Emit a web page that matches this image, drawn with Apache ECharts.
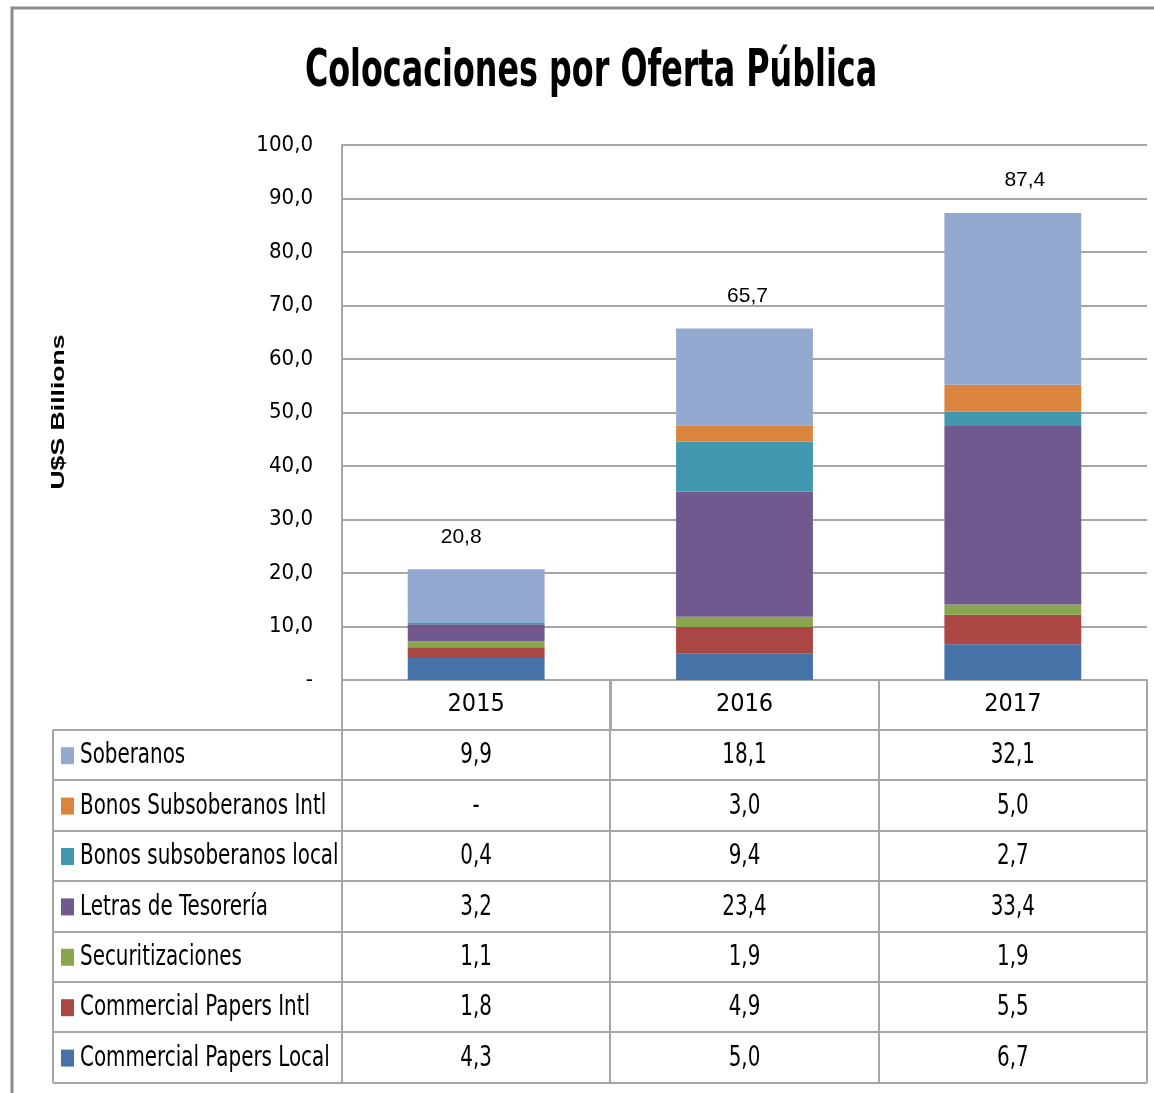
<!DOCTYPE html>
<html><head><meta charset="utf-8">
<script src="https://cdn.jsdelivr.net/npm/echarts@6/dist/echarts.min.js"></script>
<style>html,body{margin:0;padding:0;background:#fff}#c{width:1154px;height:1093px}</style>
</head><body><div id="c"></div>
<script>
const categories = ['2015', '2016', '2017'];
const soberanos = [9.9, 18.1, 32.1];
const bonosSubIntl = [0, 3.0, 5.0];
const bonosSubLocal = [0.4, 9.4, 2.7];
const letras = [3.2, 23.4, 33.4];
const securitizaciones = [1.1, 1.9, 1.9];
const cpIntl = [1.8, 4.9, 5.5];
const cpLocal = [4.3, 5.0, 6.7];
const totals = [20.8, 65.7, 87.4];
const yTicks = [0, 10, 20, 30, 40, 50, 60, 70, 80, 90, 100];

const NARROW = '"Liberation Sans Narrow", "DejaVu Sans Condensed", sans-serif';
const ARIAL = '"Liberation Sans", Arial, sans-serif';
const fmt = v => v === 0 ? '-' : v.toFixed(1).replace('.', ',');

// top-to-bottom order in the table
const seriesDefs = [
  {name: 'Soberanos', data: soberanos, color: '#93a9cf'},
  {name: 'Bonos Subsoberanos Intl', data: bonosSubIntl, color: '#db843d'},
  {name: 'Bonos subsoberanos local', data: bonosSubLocal, color: '#4198af'},
  {name: 'Letras de Tesorería', data: letras, color: '#71588f'},
  {name: 'Securitizaciones', data: securitizaciones, color: '#89a54e'},
  {name: 'Commercial Papers Intl', data: cpIntl, color: '#aa4643'},
  {name: 'Commercial Papers Local', data: cpLocal, color: '#4572a7'}
];

const gridLeft = 342, gridRight = 1147, gridTop = 145, gridBottom = 680;
const tableLeft = 53, headerBottom = 730, rowH = 50.4;
const lineColor = '#a6a6a6';
const totalLabelShift = [-15, 3, 12];

const stackOrder = seriesDefs.slice().reverse();
const series = stackOrder.map((s, i) => {
  const isTop = i === stackOrder.length - 1;
  return {
    name: s.name, type: 'bar', stack: 'total',
    data: s.data.map((v, k) => isTop ? {value: v, label: {offset: [totalLabelShift[k], 0]}} : v),
    barCategoryGap: '49%',
    itemStyle: {color: s.color},
    label: isTop ? {
      show: true, position: 'top', distance: 22,
      formatter: p => fmt(totals[p.dataIndex]),
      fontFamily: ARIAL, fontSize: 21, color: '#000'
    } : {show: false}
  };
});

const chart = echarts.init(document.getElementById('c'), null, {renderer: 'canvas'});

const graphics = [];
graphics.push({type: 'polyline', shape: {points: [[12, 1093], [12, 8], [1154, 8]]},
  style: {stroke: '#8c8c8c', lineWidth: 3, fill: null}, silent: true});
graphics.push({type: 'text', x: 591, y: 72, scaleX: 0.68, silent: true,
  style: {text: 'Colocaciones por Oferta Pública', fontFamily: NARROW, fontWeight: 'bold', fontSize: 52,
    fill: '#000', align: 'center', verticalAlign: 'middle'}});
graphics.push({type: 'text', x: 59, y: 412, rotation: Math.PI / 2, scaleX: 1.4, silent: true,
  style: {text: 'U$S Billions', fontFamily: ARIAL, fontWeight: 'bold', fontSize: 19,
    fill: '#000', align: 'center', verticalAlign: 'middle'}});

const colW = (gridRight - gridLeft) / categories.length;
const nRows = seriesDefs.length;
const tableBottom = headerBottom + nRows * rowH;
for (let r = 0; r <= nRows; r++) {
  const y = Math.round(headerBottom + r * rowH);
  graphics.push({type: 'line', shape: {x1: tableLeft, y1: y, x2: gridRight, y2: y},
    style: {stroke: lineColor, lineWidth: 2}, silent: true});
}
graphics.push({type: 'line', shape: {x1: tableLeft, y1: headerBottom, x2: tableLeft, y2: tableBottom},
  style: {stroke: lineColor, lineWidth: 2}, silent: true});
for (let c = 0; c <= categories.length; c++) {
  const x = Math.round(gridLeft + c * colW);
  graphics.push({type: 'line', shape: {x1: x, y1: gridBottom, x2: x, y2: tableBottom},
    style: {stroke: lineColor, lineWidth: 2}, silent: true});
}
seriesDefs.forEach((s, r) => {
  const yc = headerBottom + r * rowH + rowH / 2;
  graphics.push({type: 'rect', shape: {x: 61, y: yc - 8, width: 13, height: 17},
    style: {fill: s.color}, silent: true});
  graphics.push({type: 'text', x: 80, y: yc + 1, scaleX: 0.79, silent: true,
    style: {text: s.name, fontFamily: NARROW, fontSize: 28, fill: '#000', verticalAlign: 'middle', align: 'left'}});
  s.data.forEach((v, c) => {
    graphics.push({type: 'text', x: gridLeft + (c + 0.5) * colW, y: yc + 1, scaleX: 0.79, silent: true,
      style: {text: fmt(v), fontFamily: NARROW, fontSize: 28, fill: '#000', verticalAlign: 'middle', align: 'center'}});
  });
});

chart.setOption({
  animation: false,
  backgroundColor: '#fff',
  grid: {left: gridLeft, right: 1154 - gridRight, top: gridTop, bottom: 1093 - gridBottom},
  xAxis: {type: 'category', data: categories,
    axisLine: {lineStyle: {color: lineColor, width: 2}},
    axisTick: {show: true, length: 50, inside: false, lineStyle: {color: lineColor, width: 2}},
    axisLabel: {fontFamily: NARROW, fontSize: 25, color: '#000', margin: 12}},
  yAxis: {type: 'value', min: 0, max: 100, interval: 10,
    axisLine: {show: true, lineStyle: {color: lineColor, width: 2}},
    axisTick: {show: false},
    splitLine: {lineStyle: {color: lineColor, width: 2}},
    axisLabel: {fontFamily: NARROW, fontSize: 22, color: '#000', margin: 29, padding: [6, 0, 0, 0],
      formatter: v => yTicks.includes(v) ? fmt(v) : ''}},
  series: series,
  graphic: graphics
});
</script></body></html>
